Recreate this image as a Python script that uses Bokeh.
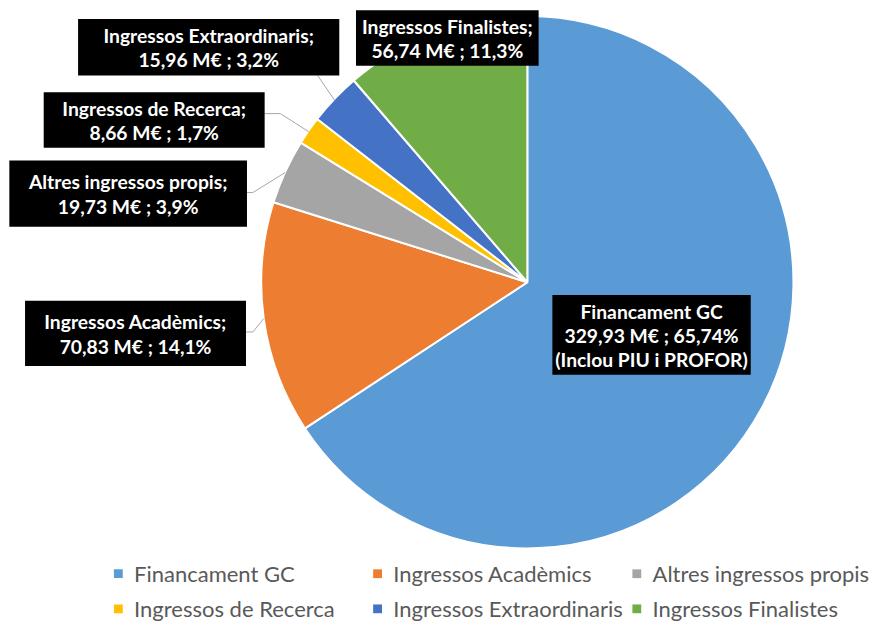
import numpy as np
from bokeh.plotting import figure
from bokeh.models import Range1d
from bokeh.core.properties import value
from bokeh.embed import file_html
from bokeh.resources import INLINE

# ---- data ----
categories = ["Financament GC", "Ingressos Acadèmics", "Altres ingressos propis",
              "Ingressos de Recerca", "Ingressos Extraordinaris", "Ingressos Finalistes"]
values_me = [329.93, 70.83, 19.73, 8.66, 15.96, 56.74]
pct_decimals = [2, 1, 1, 1, 1, 1]
extra_line = ["(Inclou PIU i PROFOR)", "", "", "", "", ""]
colors = ["#5B9BD5", "#ED7D31", "#A5A5A5", "#FFC000", "#4472C4", "#70AD47"]

# ---- layout (in the reference's 888x637 pixel space, scaled to fit) ----
W, H = 872, 621
REF_W, REF_H = 888, 637
CX, CY, R = 536.5, 289.0, 271.0
# label boxes: left, right, top, bottom
boxes = [(562, 764, 302, 384), (25, 250, 308, 375), (9, 251, 164, 232),
         (44, 269, 94, 151), (79, 345, 19, 77), (362, 548, 10, 67)]
# leader line elbow points (box side -> elbow), None = no leader
leaders = [None, [(250, 340), (257, 340)], [(251, 197), (257, 197)],
           [(269, 116), (285, 116)], [(323, 77), (323, 77)], None]
legend_cols = [120, 384, 648]
legend_rows = [588, 624]
LINE = 25
BOX_FONT = "19.3px"
LEG_FONT = "22px"
FONT = "Lato"
TEXT_SHIFT = 7.0  # baseline correction for the svg text rendering


def fmt(v, d):
    return f"{v:.{d}f}".replace(".", ",")


total = sum(values_me)
fracs = [v / total for v in values_me]
cum = np.concatenate([[0.0], np.cumsum(fracs)])

p = figure(width=W, height=H, x_range=Range1d(0, REF_W), y_range=Range1d(-REF_H, 0),
           output_backend="svg", toolbar_location=None, min_border=0,
           x_axis_type=None, y_axis_type=None)
p.grid.visible = False
p.outline_line_color = None
p.background_fill_color = "white"
p.border_fill_color = "white"

# ---- pie (clockwise from 12 o'clock) ----
start = [np.pi / 2 - 2 * np.pi * cum[i + 1] for i in range(len(values_me))]
end = [np.pi / 2 - 2 * np.pi * cum[i] for i in range(len(values_me))]
p.wedge(x=[CX] * len(values_me), y=[-CY] * len(values_me), radius=R,
        start_angle=start, end_angle=end, fill_color=colors,
        line_color="white", line_width=2)

# ---- leader lines ----
for i, ld in enumerate(leaders):
    if ld is None:
        continue
    mid = (cum[i] + cum[i + 1]) / 2 * 2 * np.pi
    ex = CX + R * np.sin(mid)
    ey = CY - R * np.cos(mid)
    xs = [ld[0][0], ld[1][0], ex]
    ys = [-ld[0][1], -ld[1][1], -ey]
    p.line(xs, ys, line_color="#A6A6A6", line_width=1)

# ---- label boxes ----
p.quad(left=[b[0] for b in boxes], right=[b[1] for b in boxes],
       top=[-b[2] for b in boxes], bottom=[-b[3] for b in boxes],
       fill_color="black", line_color=None)

tx, ty, tt = [], [], []
for i, cat in enumerate(categories):
    pct = fmt(values_me[i] / total * 100, pct_decimals[i])
    if extra_line[i]:
        lines = [cat, f"{fmt(values_me[i], 2)} M€ ; {pct}%", extra_line[i]]
    else:
        lines = [cat + ";", f"{fmt(values_me[i], 2)} M€ ; {pct}%"]
    b = boxes[i]
    bcx = (b[0] + b[1]) / 2
    bcy = (b[2] + b[3]) / 2
    n = len(lines)
    for k, s in enumerate(lines):
        tx.append(bcx)
        ty.append(-(bcy + (k - (n - 1) / 2) * LINE + 7.5 - TEXT_SHIFT))
        tt.append(s)
p.text(x=tx, y=ty, text=tt, text_font=value(FONT), text_font_style="bold",
       text_font_size=BOX_FONT, text_color="white", text_align="center",
       text_baseline="alphabetic")

# ---- legend ----
lx, ly, ltx, lty = [], [], [], []
for i, cat in enumerate(categories):
    c = legend_cols[i % 3]
    r = legend_rows[i // 3]
    lx.append(c)
    ly.append(-r)
    ltx.append(c + 16)
    lty.append(-(r + 7 - TEXT_SHIFT))
p.rect(x=lx, y=ly, width=9, height=9, fill_color=colors, line_color=None)
p.text(x=ltx, y=lty, text=categories, text_font=value(FONT), text_font_size=LEG_FONT,
       text_color="#595959", text_align="left", text_baseline="alphabetic")

open("out.html", "w").write(file_html(p, INLINE))
